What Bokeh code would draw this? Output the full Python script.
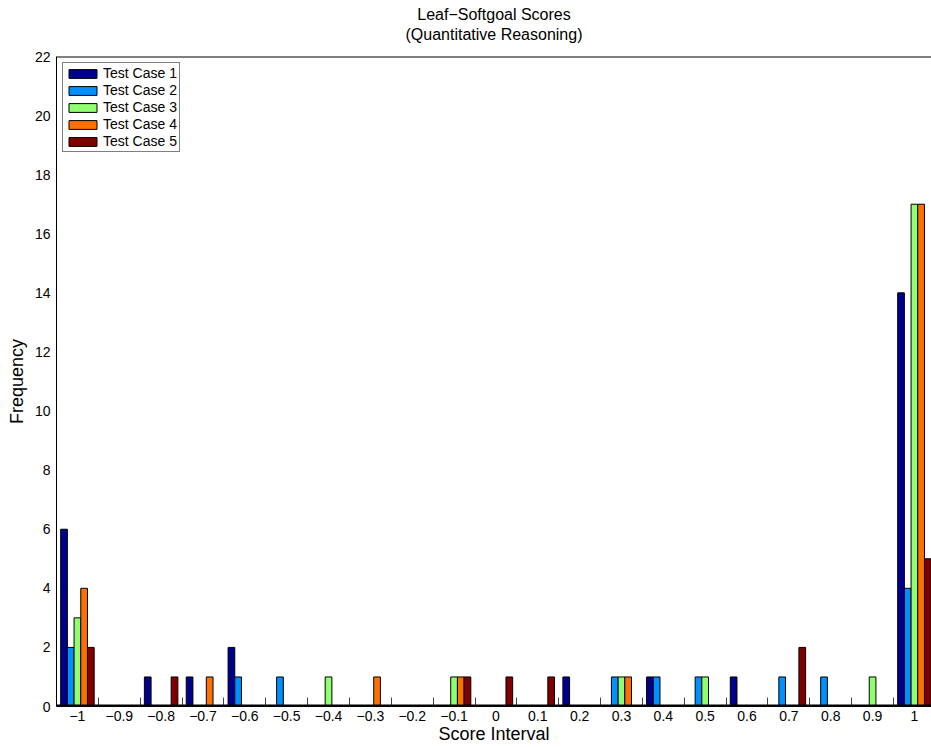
from bokeh.plotting import figure
from bokeh.models import (ColumnDataSource, FixedTicker, Legend, LegendItem, Span, Range1d,
                          Title)
from bokeh.transform import dodge
from bokeh.embed import file_html
from bokeh.resources import INLINE

# ---------------- data ----------------
bins = [-1.0, -0.9, -0.8, -0.7, -0.6, -0.5, -0.4, -0.3, -0.2, -0.1, 0.0,
        0.1, 0.2, 0.3, 0.4, 0.5, 0.6, 0.7, 0.8, 0.9, 1.0]
bin_edges = [-0.95, -0.85, -0.75, -0.65, -0.55, -0.45, -0.35, -0.25, -0.15, -0.05,
             0.05, 0.15, 0.25, 0.35, 0.45, 0.55, 0.65, 0.75, 0.85, 0.95]
tick_labels = ["\u22121", "\u22120.9", "\u22120.8", "\u22120.7", "\u22120.6", "\u22120.5",
               "\u22120.4", "\u22120.3", "\u22120.2", "\u22120.1", "0",
               "0.1", "0.2", "0.3", "0.4", "0.5", "0.6", "0.7", "0.8", "0.9", "1"]
tc1 = [6, 0, 1, 1, 2, 0, 0, 0, 0, 0, 0, 0, 1, 0, 1, 0, 1, 0, 0, 0, 14]
tc2 = [2, 0, 0, 0, 1, 1, 0, 0, 0, 0, 0, 0, 0, 1, 1, 1, 0, 1, 1, 0, 4]
tc3 = [3, 0, 0, 0, 0, 0, 1, 0, 0, 1, 0, 0, 0, 1, 0, 1, 0, 0, 0, 1, 17]
tc4 = [4, 0, 0, 1, 0, 0, 0, 1, 0, 1, 0, 0, 0, 1, 0, 0, 0, 0, 0, 0, 17]
tc5 = [2, 0, 1, 0, 0, 0, 0, 0, 0, 1, 1, 1, 0, 0, 0, 0, 0, 2, 0, 0, 5]
series_names = ["Test Case 1", "Test Case 2", "Test Case 3", "Test Case 4", "Test Case 5"]
series_keys = ["tc1", "tc2", "tc3", "tc4", "tc5"]
colors = ["#00008F", "#008FFF", "#8FFF70", "#FF7000", "#800000"]
y_ticks = [0, 2, 4, 6, 8, 10, 12, 14, 16, 18, 20, 22]
title_line1 = "Leaf\u2212Softgoal Scores"
title_line2 = "(Quantitative Reasoning)"

FONT = "Liberation Sans"

src = ColumnDataSource(dict(bin=bins, tc1=tc1, tc2=tc2, tc3=tc3, tc4=tc4, tc5=tc5))

p = figure(width=931, height=747, output_backend="svg", toolbar_location=None,
           x_range=Range1d(-1.05, 1.0408), y_range=Range1d(0, 22),
           min_border_left=56, min_border_top=56, min_border_right=0, min_border_bottom=41)
p.title = None
p.outline_line_color = None
p.grid.visible = False
p.background_fill_color = "white"
p.border_fill_color = "white"

# two-line title: the first added sits closest to the frame
p.add_layout(Title(text=title_line2, align="center", text_font=FONT, text_font_size="16px",
                   text_font_style="normal", text_color="black", standoff=28), "above")
p.add_layout(Title(text=title_line1, align="center", text_font=FONT, text_font_size="16px",
                   text_font_style="normal", text_color="black", standoff=-26), "above")

bar_w = 0.016
offsets = [-2 * bar_w, -bar_w, 0.0, bar_w, 2 * bar_w]
items = []
for key, name, col, off in zip(series_keys, series_names, colors, offsets):
    r = p.vbar(x=dodge("bin", off, range=p.x_range), top=key, bottom=0, width=bar_w,
               source=src, fill_color=col, line_color="black", line_width=1)
    items.append(LegendItem(label=name, renderers=[r]))

# thick baseline and top frame border
p.add_layout(Span(location=0, dimension="width", line_color="black", line_width=4))
p.add_layout(Span(location=22, dimension="width", line_color="black", line_width=2))

# x axis
xa = p.xaxis[0]
xa.ticker = FixedTicker(ticks=bins, minor_ticks=bin_edges)
xa.major_label_overrides = {b: t for b, t in zip(bins, tick_labels)}
xa.major_tick_in = 0
xa.major_tick_out = 0
xa.minor_tick_in = 9
xa.minor_tick_out = 0
xa.minor_tick_line_color = "#444444"
xa.axis_line_color = "black"
xa.major_label_standoff = 4
xa.major_label_text_font = FONT
xa.major_label_text_font_size = "14px"
xa.major_label_text_color = "black"
xa.axis_label = "Score Interval"
xa.axis_label_text_font = FONT
xa.axis_label_text_font_size = "18px"
xa.axis_label_text_font_style = "normal"
xa.axis_label_text_color = "black"
xa.axis_label_standoff = 0

# y axis
ya = p.yaxis[0]
ya.ticker = FixedTicker(ticks=y_ticks)
ya.major_tick_in = 0
ya.major_tick_out = 0
ya.minor_tick_in = 0
ya.minor_tick_out = 0
ya.axis_line_color = "black"
ya.major_label_standoff = 6
ya.major_label_text_font = FONT
ya.major_label_text_font_size = "14px"
ya.major_label_text_color = "black"
ya.axis_label = "Frequency"
ya.axis_label_text_font = FONT
ya.axis_label_text_font_size = "18px"
ya.axis_label_text_font_style = "normal"
ya.axis_label_text_color = "black"
ya.axis_label_standoff = 5

legend = Legend(items=items, location="top_left", margin=6, padding=2, spacing=1,
                glyph_width=35, glyph_height=11, label_height=15, label_standoff=3,
                label_text_font=FONT, label_text_font_size="14px", label_text_color="black",
                border_line_color="black", border_line_width=1, background_fill_alpha=1.0)
p.add_layout(legend, "center")

open("out.html", "w").write(file_html(p, INLINE))
